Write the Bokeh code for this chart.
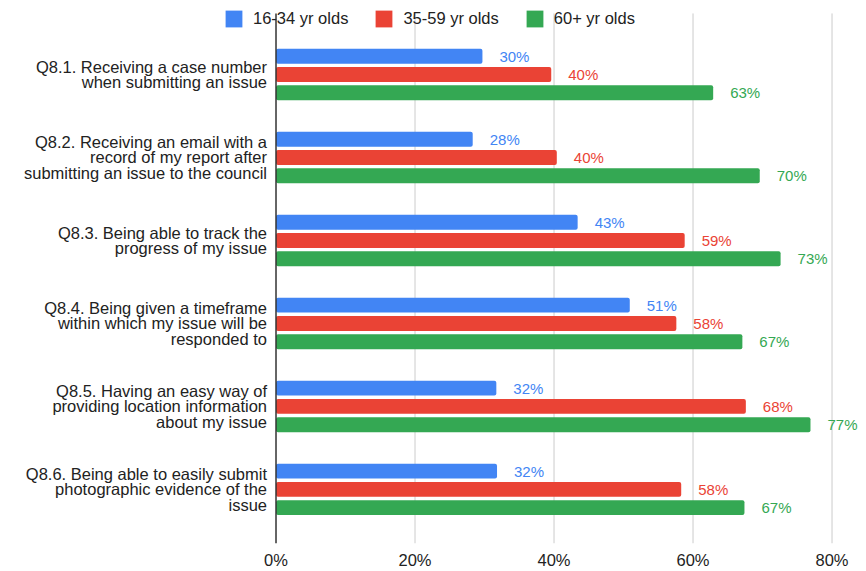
from bokeh.plotting import figure
from bokeh.models import Range1d, FixedTicker, Legend, LegendItem, ColumnDataSource, PrintfTickFormatter
from bokeh.core.properties import value
from bokeh.embed import file_html
from bokeh.resources import INLINE

questions = [
    "Q8.1. Receiving a case number\nwhen submitting an issue",
    "Q8.2. Receiving an email with a\nrecord of my report after\nsubmitting an issue to the council",
    "Q8.3. Being able to track the\nprogress of my issue",
    "Q8.4. Being given a timeframe\nwithin which my issue will be\nresponded to",
    "Q8.5. Having an easy way of\nproviding location information\nabout my issue",
    "Q8.6. Being able to easily submit\nphotographic evidence of the\nissue",
]
series_names = ["16-34 yr olds", "35-59 yr olds", "60+ yr olds"]
age_16_34 = [29.7, 28.3, 43.4, 50.9, 31.7, 31.8]
age_35_59 = [39.6, 40.4, 58.8, 57.6, 67.6, 58.3]
age_60_plus = [62.9, 69.6, 72.6, 67.1, 76.9, 67.4]
x_ticks = [0, 20, 40, 60, 80]

colors = ["#4285F4", "#EA4335", "#34A853"]
FONT = "Liberation Sans"

# plot-area extents (data units)
Y_TOP, Y_BOTTOM = -0.735, 5.652

p = figure(width=866, height=571, output_backend="svg", toolbar_location=None,
           x_range=Range1d(-39.64, 84.96), y_range=Range1d(Y_BOTTOM, -0.891),
           min_border_left=0, min_border_right=0, min_border_top=0, min_border_bottom=26)
p.outline_line_color = None
p.background_fill_color = "white"
p.xgrid.grid_line_color = None
p.ygrid.grid_line_color = None
p.yaxis.visible = False

# gridlines (20..80) and baseline at 0
grid_x = x_ticks[1:]
p.segment(x0=grid_x, x1=grid_x, y0=[Y_TOP] * len(grid_x), y1=[Y_BOTTOM] * len(grid_x),
          line_color="#cccccc", line_width=1)

series = [age_16_34, age_35_59, age_60_plus]
offsets = [-0.22, 0.0, 0.22]
renderers = []
for name, vals, col, off in zip(series_names, series, colors, offsets):
    ys = [i + off for i in range(len(vals))]
    src = ColumnDataSource(dict(y=ys, x=vals, lab=[f"{round(v)}%" for v in vals]))
    r = p.hbar(y="y", right="x", left=0, height=0.18, source=src,
               fill_color=col, line_color=None, border_radius=2)
    renderers.append(r)
    p.text(x="x", y="y", text="lab", source=src, x_offset=17,
           text_baseline="middle", text_align="left", text_color=col,
           text_font=value(FONT), text_font_size="15px")

p.segment(x0=[0], x1=[0], y0=[Y_TOP], y1=[Y_BOTTOM], line_color="#333333", line_width=1.5)

# category labels
p.text(x=[0] * len(questions), y=list(range(len(questions))), text=questions, x_offset=-9,
       text_align="right", text_baseline="middle", text_color="#222222",
       text_font=value(FONT), text_font_size="16.5px", text_line_height=0.88)

# x axis
p.xaxis.ticker = FixedTicker(ticks=x_ticks)
p.xaxis.formatter = PrintfTickFormatter(format="%d%%")
p.xaxis.axis_line_color = None
p.xaxis.major_tick_line_color = None
p.xaxis.minor_tick_line_color = None
p.xaxis.major_tick_out = 0
p.xaxis.major_tick_in = 0
p.xaxis.axis_label_standoff = 0
p.xaxis.major_label_standoff = 7
p.xaxis.major_label_text_font = FONT
p.xaxis.major_label_text_font_size = "16.5px"
p.xaxis.major_label_text_color = "#222222"

legend = Legend(items=[LegendItem(label=n, renderers=[r]) for n, r in zip(series_names, renderers)],
                orientation="horizontal", location=(223, 514),
                glyph_width=21, glyph_height=21, label_standoff=9, spacing=25,
                padding=0, margin=0, border_line_color=None, background_fill_alpha=0,
                label_text_font=FONT, label_text_font_size="16.5px", label_text_color="#222222")
p.add_layout(legend, "center")

open("out.html", "w").write(file_html(p, INLINE))
